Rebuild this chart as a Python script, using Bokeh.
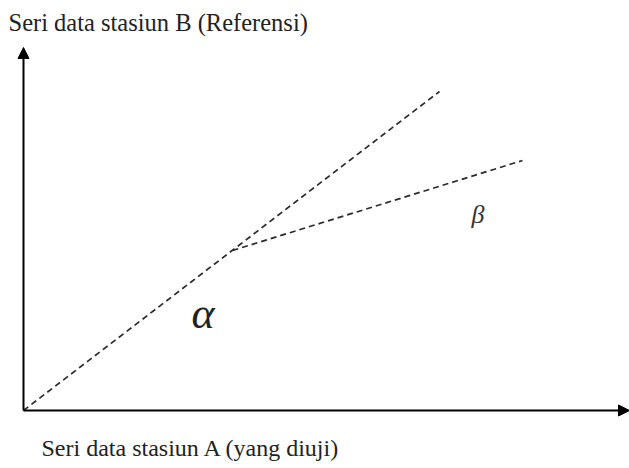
from bokeh.plotting import figure
from bokeh.models import Range1d, Label, Arrow, NormalHead
from bokeh.embed import file_html
from bokeh.resources import INLINE

# Double mass curve sketch: cumulative series of station A (x) vs reference station B (y)
trend_a = [0, 416]          # original trend, full extent
trend_b = [0, 319]
shifted_a = [209, 499]      # trend after the break point
shifted_b = [160, 250]
axis_x_end = 606
axis_y_end = 363

x_title = "Seri data stasiun A (yang diuji)"
y_title = "Seri data stasiun B (Referensi)"
alpha_label = "α"
beta_label = "β"

p = figure(width=629, height=468, output_backend="svg", toolbar_location=None,
           x_range=Range1d(-23, 606), y_range=Range1d(-58, 410),
           min_border=0, min_border_left=0, min_border_right=0,
           min_border_top=0, min_border_bottom=0)
p.axis.visible = False
p.grid.visible = False
p.outline_line_color = None
p.background_fill_color = "white"
p.border_fill_color = "white"

dash_color = "#2b2b2b"
p.line(trend_a, trend_b, line_color=dash_color, line_width=1.7, line_dash="6 4")
p.line(shifted_a, shifted_b, line_color=dash_color, line_width=1.7, line_dash="6 4")

# axes with arrow heads
p.add_layout(Arrow(x_start=0, y_start=0, x_end=axis_x_end, y_end=0,
                   line_color="black", line_width=2,
                   end=NormalHead(size=11, fill_color="black", line_color="black")))
p.add_layout(Arrow(x_start=0, y_start=0, x_end=0, y_end=axis_y_end,
                   line_color="black", line_width=2,
                   end=NormalHead(size=11, fill_color="black", line_color="black")))

font = "Liberation Serif"
p.add_layout(Label(x=-15, y=388, text=y_title, text_font=font, text_font_size="24.5px",
                   text_color="#222222", text_baseline="alphabetic"))
p.add_layout(Label(x=18, y=-37, text=x_title, text_font=font, text_font_size="24px",
                   text_color="#222222", text_baseline="alphabetic"))
p.add_layout(Label(x=168, y=97, text=alpha_label, text_font=font, text_font_size="44px",
                   text_font_style="italic", text_color="#222222", text_baseline="alphabetic"))
p.add_layout(Label(x=448, y=196, text=beta_label, text_font=font, text_font_size="26px",
                   text_font_style="italic", text_color="#333333", text_baseline="alphabetic"))

open("out.html", "w").write(file_html(p, INLINE))
